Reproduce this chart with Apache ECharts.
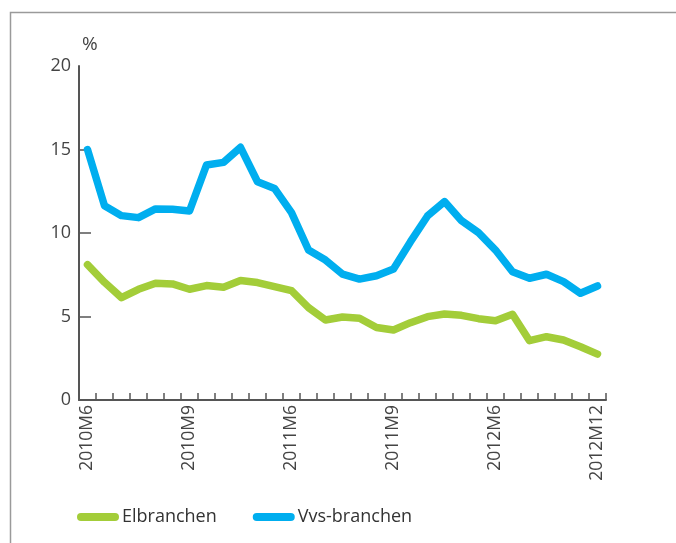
<!DOCTYPE html>
<html><head><meta charset="utf-8">
<script src="https://cdn.jsdelivr.net/npm/echarts@6/dist/echarts.min.js"></script>
<style>html,body{margin:0;padding:0;background:#fff}#c{width:676px;height:543px}</style>
</head><body><div id="c"></div>
<script>
const categories = ['2010M6','2010M7','2010M8','2010M9','2010M10','2010M11','2010M12',
 '2011M1','2011M2','2011M3','2011M4','2011M5','2011M6','2011M7','2011M8','2011M9','2011M10','2011M11','2011M12',
 '2012M1','2012M2','2012M3','2012M4','2012M5','2012M6','2012M7','2012M8','2012M9','2012M10','2012M11','2012M12'];
const tickLabels = ['2010M6','2010M9','2011M6','2011M9','2012M6','2012M12'];
const elbranchen = [8.1,7.05,6.13,6.63,6.99,6.95,6.63,6.85,6.75,7.15,7.03,6.79,6.55,5.53,4.79,4.97,4.9,4.34,
 4.19,4.63,4.99,5.15,5.07,4.87,4.75,5.13,3.55,3.79,3.59,3.19,2.75];
const vvsbranchen = [15.0,11.63,11.04,10.92,11.44,11.42,11.32,14.07,14.23,15.13,13.07,12.67,11.22,8.98,8.38,7.54,
 7.24,7.44,7.84,9.48,11.02,11.88,10.74,10.02,8.98,7.68,7.29,7.53,7.09,6.39,6.83];
const yTicks = [0,5,10,15,20];

const FONT = "'Open Sans', sans-serif";
const chart = echarts.init(document.getElementById('c'));
chart.setOption({
  animation: false,
  backgroundColor: '#fff',
  graphic: [{
    type: 'polyline', silent: true,
    shape: { points: [[10.5, 543], [10.5, 12.5], [676, 12.5]] },
    style: { stroke: '#9a9a9a', lineWidth: 1.5, fill: null }
  }],
  grid: { left: 79, right: 70, top: 66, bottom: 143, containLabel: false },
  legend: {
    left: 72, top: 503,
    itemWidth: 42, itemHeight: 8, itemGap: 36,
    icon: 'path://M4,0 H38 A4,4 0 0 1 38,8 H4 A4,4 0 0 1 4,0 Z',
    textStyle: { fontFamily: FONT, fontSize: 18, color: '#333', padding: [0, 0, 0, -2] },
    data: ['Elbranchen', 'Vvs-branchen']
  },
  xAxis: {
    type: 'category', data: categories, boundaryGap: true,
    axisLine: { lineStyle: { color: '#555', width: 2 } },
    axisTick: { show: true, inside: true, length: 7, interval: 0, lineStyle: { color: '#555', width: 1.5 } },
    axisLabel: {
      interval: 0, rotate: 90, margin: 5,
      fontFamily: FONT, fontSize: 17.5, color: '#444',
      formatter: (v, i) => (i % 6 === 0 ? tickLabels[i / 6] : '')
    },
    splitLine: { show: false }
  },
  yAxis: {
    type: 'value', min: yTicks[0], max: yTicks[yTicks.length - 1], interval: 5,
    name: '%', nameLocation: 'end', nameGap: 12,
    nameTextStyle: { fontFamily: FONT, fontSize: 19, color: '#444', align: 'left', padding: [0, 0, 0, 3] },
    axisLine: { show: true, lineStyle: { color: '#555', width: 2 } },
    axisTick: { show: true, inside: true, length: 12, customValues: [5, 10, 15], lineStyle: { color: '#555', width: 1.5 } },
    axisLabel: { fontFamily: FONT, fontSize: 18, color: '#444', margin: 8 },
    splitLine: { show: false }
  },
  series: [
    { name: 'Elbranchen', type: 'line', data: elbranchen, showSymbol: false, symbol: 'none',
      color: '#A3CD39', lineStyle: { width: 7.5, color: '#A3CD39', cap: 'round', join: 'round' } },
    { name: 'Vvs-branchen', type: 'line', data: vvsbranchen, showSymbol: false, symbol: 'none',
      color: '#00AEEF', lineStyle: { width: 7.5, color: '#00AEEF', cap: 'round', join: 'round' } }
  ]
});
</script></body></html>
